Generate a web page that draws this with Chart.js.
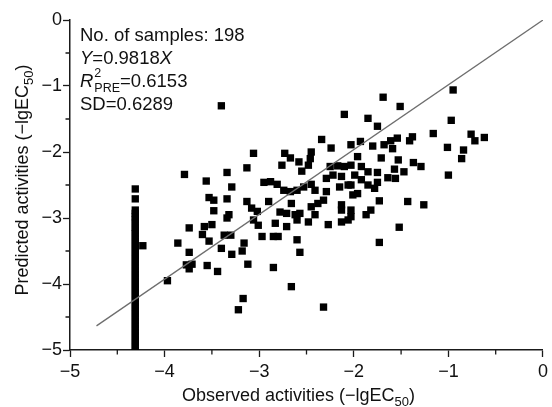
<!DOCTYPE html>
<html>
<head>
<meta charset="utf-8">
<script src="https://cdn.jsdelivr.net/npm/chart.js@4/dist/chart.umd.min.js"></script>
<style>
  html, body { margin: 0; padding: 0; background: #fff; }
  #wrap { width: 552px; height: 407px; position: relative; }
</style>
</head>
<body>
<div id="wrap"><canvas id="c" width="552" height="407"></canvas></div>
<script>
// ---- data ----
const observedX = [
  -0.95, -0.97, -1.16, -0.76, -0.72, -0.62, -1.01, -0.84, -0.86, -1.00,
  -1.69, -1.51, -1.85, -1.75, -1.38, -1.41, -1.54, -1.61, -1.68, -1.59,
  -1.71, -1.53, -1.37, -1.29, -1.47, -1.57, -1.56, -1.64, -1.73, -1.43,
  -1.26, -1.52, -1.73, -2.03, -1.93, -1.96, -2.03, -1.92, -1.85, -1.75,
  -1.99, -1.92, -1.75, -2.03, -1.85, -1.78, -1.96, -2.01, -2.03, -2.03,
  -1.87, -1.82, -1.80,
  -2.10, -2.34, -2.24, -2.73, -2.67, -2.45, -2.46, -2.58, -2.76, -2.48,
  -2.55, -2.25, -2.17, -2.10, -3.06, -2.95, -2.88, -2.81, -2.74, -2.67,
  -2.60, -2.53, -2.45, -2.41, -2.29, -2.22, -2.13, -2.06, -2.29, -2.15,
  -2.66, -2.32, -2.38, -2.45, -2.90, -2.78, -2.71, -2.62, -2.57, -2.41,
  -2.48, -2.60, -2.13, -2.13, -2.06, -2.13, -2.27, -2.71, -2.83, -3.02,
  -3.01, -2.97, -2.85, -2.80, -2.60, -2.57, -2.85, -2.66, -2.32,
  -3.79, -3.56, -3.34, -3.29, -3.13, -3.53, -3.48, -3.34, -3.48, -3.32,
  -3.34, -3.13, -3.08, -3.06, -3.74, -3.58, -3.50, -3.60, -3.53, -3.37,
  -3.30, -3.40, -3.29, -3.16, -3.18, -3.86, -3.74, -3.77, -3.71, -3.74,
  -3.55, -3.44, -3.12, -3.97, -3.17, -3.22, -4.23, -3.40,
  -4.31, -4.31, -4.31, -4.31, -4.31, -4.31, -4.31, -4.31, -4.31, -4.31,
  -4.31, -4.31, -4.31, -4.31, -4.31, -4.31, -4.31, -4.31, -4.31, -4.31,
  -4.31, -4.31, -4.31, -4.31, -4.31, -4.31, -4.31, -4.31, -4.31, -4.31,
  -4.31, -4.31, -4.31, -4.31, -4.31, -4.31, -4.31, -4.31, -4.31, -4.31,
  -4.31, -4.31
];
const predictedY = [
  -1.06, -1.52, -1.72, -1.73, -1.83, -1.78, -1.93, -1.97, -2.10, -2.35,
  -1.17, -1.31, -1.49, -1.61, -1.77, -1.83, -1.79, -1.83, -1.89, -1.95,
  -2.09, -2.12, -2.16, -2.22, -2.30, -2.26, -2.40, -2.39, -2.74, -2.75,
  -2.80, -3.14, -3.37, -1.89, -1.84, -2.07, -2.20, -2.22, -2.30, -2.31,
  -2.35, -2.42, -2.46, -2.50, -2.50, -2.55, -2.63, -2.65, -2.88, -2.98,
  -2.95, -2.88, -1.91,
  -1.43, -1.81, -1.94, -2.02, -2.09, -2.00, -2.10, -2.15, -2.20, -2.20,
  -2.29, -2.22, -2.21, -2.22, -2.02, -2.46, -2.45, -2.49, -2.58, -2.60,
  -2.58, -2.53, -2.49, -2.58, -2.40, -2.35, -2.37, -2.50, -2.60, -2.53,
  -2.78, -2.73, -2.78, -2.83, -2.75, -2.91, -2.93, -2.95, -2.93, -2.95,
  -3.06, -3.03, -2.80, -2.88, -3.03, -3.06, -3.10, -3.13, -3.08, -2.90,
  -3.11, -3.28, -3.28, -3.28, -3.33, -3.52, -3.75, -4.04, -4.35,
  -2.34, -2.44, -2.31, -2.53, -2.24, -2.69, -2.73, -2.71, -2.89, -2.95,
  -3.00, -2.75, -2.85, -3.03, -3.15, -3.13, -3.10, -3.25, -3.35, -3.26,
  -3.26, -3.46, -3.55, -3.38, -3.50, -3.38, -3.52, -3.71, -3.70, -3.77,
  -3.72, -3.81, -3.70, -3.95, -4.22, -4.39, -3.42, -1.30,
  -2.56, -2.71, -2.88, -2.93, -2.98, -3.03, -3.08, -3.14, -3.19, -3.24,
  -3.30, -3.35, -3.41, -3.46, -3.52, -3.57, -3.63, -3.68, -3.74, -3.79,
  -3.85, -3.90, -3.96, -4.01, -4.07, -4.12, -4.18, -4.23, -4.29, -4.34,
  -4.40, -4.45, -4.51, -4.56, -4.62, -4.67, -4.73, -4.78, -4.84, -4.89,
  -4.95, -5.00
];
const fitSlope = 0.9818;
const fitLineX = [-4.72, 0];
const xTicks = [-5, -4, -3, -2, -1, 0];
const yTicks = [-5, -4, -3, -2, -1, 0];
const xTitle = ['Observed activities (\u2212lgEC', '50', ')'];
const yTitle = ['Predicted activities (\u2212lgEC', '50', ')'];
const statLines = [
  [{t: 'No. of samples: 198'}],
  [{t: 'Y', i: true}, {t: '=0.9818'}, {t: 'X', i: true}],
  [{t: 'R', i: true}, {sup: '2', sub: 'PRE'}, {t: '=0.6153'}],
  [{t: 'SD=0.6289'}]
];

// ---- drawing ----
const FONT = '"Liberation Sans", Arial, Helvetica, sans-serif';
const AX = '#1a1a1a';
const points = observedX.map((x, i) => ({x: x, y: predictedY[i]}));
const linePts = fitLineX.map(x => ({x: x, y: fitSlope * x}));
const fmt = v => (v < 0 ? '\u2212' + Math.abs(v) : String(v));

function drawSubText(ctx, parts, x, y, size) {
  // parts: [main, sub, tail]; draws left-aligned at baseline y
  ctx.font = size + 'px ' + FONT;
  ctx.fillText(parts[0], x, y);
  let w = ctx.measureText(parts[0]).width;
  ctx.font = Math.round(size * 0.7) + 'px ' + FONT;
  ctx.fillText(parts[1], x + w, y + size * 0.28);
  w += ctx.measureText(parts[1]).width;
  ctx.font = size + 'px ' + FONT;
  ctx.fillText(parts[2], x + w, y);
}
function subTextWidth(ctx, parts, size) {
  ctx.font = size + 'px ' + FONT;
  let w = ctx.measureText(parts[0]).width + ctx.measureText(parts[2]).width;
  ctx.font = Math.round(size * 0.7) + 'px ' + FONT;
  return w + ctx.measureText(parts[1]).width;
}

const decor = {
  id: 'decor',
  afterDraw(chart) {
    const ctx = chart.ctx;
    const xs = chart.scales.x, ys = chart.scales.y;
    const ca = chart.chartArea;
    ctx.save();
    // minor ticks
    ctx.strokeStyle = AX;
    ctx.lineWidth = 1.3;
    ctx.beginPath();
    for (let k = 0; k < xTicks.length - 1; k++) {
      const mx = xs.getPixelForValue((xTicks[k] + xTicks[k + 1]) / 2);
      ctx.moveTo(mx, ca.bottom); ctx.lineTo(mx, ca.bottom + 4.5);
    }
    for (let k = 0; k < yTicks.length - 1; k++) {
      const my = ys.getPixelForValue((yTicks[k] + yTicks[k + 1]) / 2);
      ctx.moveTo(ca.left, my); ctx.lineTo(ca.left - 4.5, my);
    }
    ctx.stroke();

    ctx.fillStyle = '#111';
    ctx.textBaseline = 'alphabetic';
    ctx.textAlign = 'left';
    // x title
    const ts = 18;
    const xw = subTextWidth(ctx, xTitle, ts);
    const xc = (ca.left + ca.right) / 2 - 8;
    drawSubText(ctx, xTitle, xc - xw / 2, 401, ts);
    // y title
    ctx.save();
    ctx.translate(28, (ca.top + ca.bottom) / 2 - 5);
    ctx.rotate(-Math.PI / 2);
    const yw = subTextWidth(ctx, yTitle, ts);
    drawSubText(ctx, yTitle, -yw / 2, 0, ts);
    ctx.restore();

    // stats box
    const fs = 18.5, small = 12.5;
    let by = 40.5;
    statLines.forEach(line => {
      let x = ca.left + 10;
      line.forEach(p => {
        if (p.t !== undefined) {
          ctx.font = (p.i ? 'italic ' : '') + fs + 'px ' + FONT;
          ctx.fillText(p.t, x, by);
          x += ctx.measureText(p.t).width;
        } else {
          ctx.font = small + 'px ' + FONT;
          ctx.fillText(p.sup, x + 1, by - 10);
          ctx.fillText(p.sub, x + 1, by + 5.5);
          x += Math.max(ctx.measureText(p.sup).width, ctx.measureText(p.sub).width) + 1;
        }
      });
      by += 23;
    });
    ctx.restore();
  }
};

const axisCommon = {
  type: 'linear',
  min: -5,
  max: 0,
  grid: {
    display: true,
    drawOnChartArea: false,
    drawTicks: true,
    tickLength: 7,
    tickWidth: 1.3,
    tickColor: AX
  },
  border: { display: true, color: AX, width: 1.5 },
  ticks: {
    stepSize: 1,
    color: '#111',
    font: { family: FONT, size: 18 },
    callback: v => fmt(v)
  },
  title: { display: false }
};

new Chart(document.getElementById('c'), {
  data: {
    datasets: [
      {
        type: 'scatter',
        data: points,
        pointStyle: 'rect',
        pointRadius: 5.2,
        pointHoverRadius: 5.2,
        backgroundColor: '#000',
        borderWidth: 0,
        clip: 0,
        order: 2
      },
      {
        type: 'line',
        data: linePts,
        borderColor: '#6e6e6e',
        borderWidth: 1.3,
        pointRadius: 0,
        fill: false,
        tension: 0,
        order: 1
      }
    ]
  },
  options: {
    responsive: false,
    animation: false,
    events: [],
    layout: { padding: { top: 20, right: 5.5, left: 0, bottom: 0 } },
    plugins: { legend: { display: false }, tooltip: { enabled: false } },
    scales: {
      x: Object.assign({}, axisCommon, {
        position: 'bottom',
        ticks: Object.assign({}, axisCommon.ticks, { padding: 4, maxRotation: 0 }),
        afterFit: s => { s.height = 57; }
      }),
      y: Object.assign({}, axisCommon, {
        position: 'left',
        ticks: Object.assign({}, axisCommon.ticks, { padding: 1 }),
        afterFit: s => { s.width = 70; }
      })
    }
  },
  plugins: [decor]
});
</script>
</body>
</html>
